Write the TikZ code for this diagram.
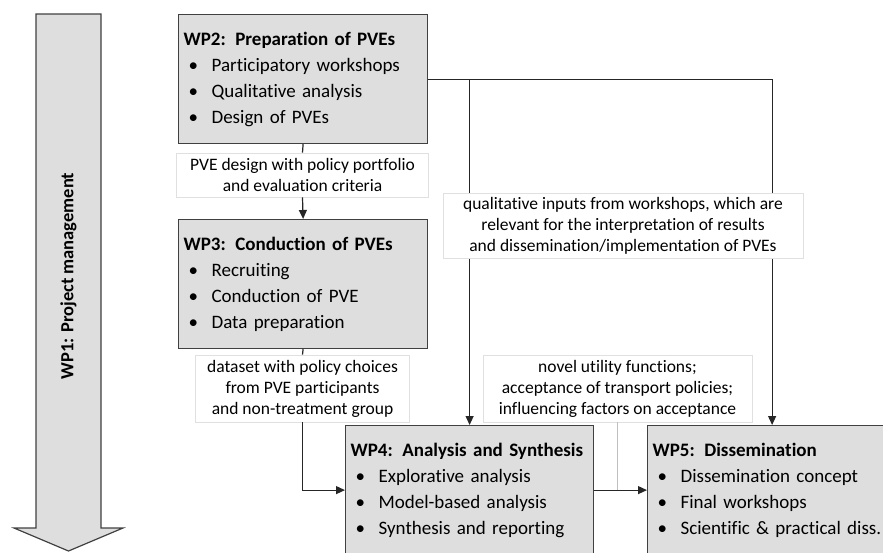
\documentclass[tikz,border=0pt]{standalone}
\usepackage{fontspec}
\setmainfont{Carlito}[Ligatures=NoCommon]
\usetikzlibrary{arrows.meta, positioning}
\newcommand{\wpitem}[1]{\\\makebox[28pt][l]{\hspace{5pt}\textbullet}#1}

\begin{document}
\begin{tikzpicture}[x=1pt, y=-1pt, >={Triangle[length=9pt,width=8pt]},
    every node/.style={font=\fontsize{19}{26}\selectfont},
    wpbox/.style={draw=black!75, fill=black!13, line width=1.2pt, anchor=north west,
      minimum height=129pt, inner xsep=5pt, text width=239pt, align=left},
    flowlabel/.style={draw=black!12, fill=white, line width=0.8pt, align=center,
      inner sep=2pt, font=\fontsize{17.5}{21}\selectfont},
    link/.style={black!85, line width=1.2pt}]
  \useasboundingbox (0,0) rectangle (883,552);

  % WP1 arrow
  \draw[black!75, fill=black!13, line width=1.2pt] (36,14) -- (101,14) -- (101,528)
    -- (123,528) -- (68.5,551) -- (14,528) -- (36,528) -- cycle;
  \node[rotate=90, font=\bfseries\fontsize{18.5}{20}\selectfont] (wp1) at (68.5,276) {WP1: Project management};

  % Work packages
  \node[wpbox] (wp2) at (178,14) {\textbf{WP2: Preparation of PVEs}\wpitem{Participatory workshops}\wpitem{Qualitative analysis}\wpitem{Design of PVEs}};
  \node[wpbox] (wp3) at (178,219) {\textbf{WP3: Conduction of PVEs}\wpitem{Recruiting}\wpitem{Conduction of PVE}\wpitem{Data preparation}};
  \node[wpbox, text width=238pt] (wp4) at (345,425) {\textbf{WP4: Analysis and Synthesis}\wpitem{Explorative analysis}\wpitem{Model-based analysis}\wpitem{Synthesis and reporting}};
  \node[wpbox] (wp5) at (647,425) {\textbf{WP5: Dissemination}\wpitem{Dissemination concept}\wpitem{Final workshops}\wpitem{Scientific \& practical diss.}};

  % Flow labels
  \node[flowlabel, minimum width=252pt, minimum height=44pt] (l1) at (302.5,175) {PVE design with policy portfolio\\and evaluation criteria};
  \node[flowlabel, minimum width=214pt, minimum height=67pt] (l2) at (302.5,388.5) {dataset with policy choices\\from PVE participants\\and non-treatment group};
  \node[flowlabel, minimum width=269pt, minimum height=67pt] (l3) at (617.5,388.5) {novel utility functions;\\acceptance of transport policies;\\influencing factors on acceptance};

  % Connectors
  \draw[link] (wp2.south) -- (l1.north);
  \draw[link, ->] (l1.south) -- (wp3.north);
  \draw[link] (wp3.south) -- (l2.north);
  \draw[link, ->] (l2.south) |- (wp4.west);
  \draw[link, ->] (wp4.east) -- (wp5.west);
  \draw[black!25, line width=1pt] (l3.south) -- (l3.south |- wp4.east);
  \draw[link, ->] (wp2.east) -| (wp5.north);
  \draw[link, ->] (wp2.east -| wp4.north) -- (wp4.north);

  % Label over the feedback lines
  \node[flowlabel, minimum width=360pt, minimum height=65pt] (l4) at (623,225.5) {qualitative inputs from workshops, which are\\relevant for the interpretation of results\\and dissemination/implementation of PVEs};
\end{tikzpicture}
\end{document}
